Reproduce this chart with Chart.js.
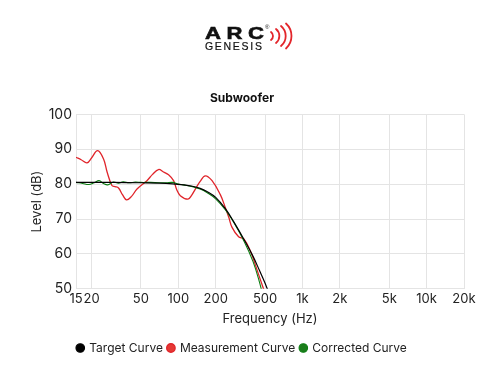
<!DOCTYPE html>
<html>
<head>
<meta charset="utf-8">
<script src="https://cdn.jsdelivr.net/npm/chart.js@4"></script>
<style>
  html, body { margin: 0; padding: 0; background: #fff; }
  #wrap { position: relative; width: 500px; height: 378px; overflow: hidden; font-family: "Liberation Sans", Arial, sans-serif; }
  #c { position: absolute; left: 0; top: 0; }
  .arc { position: absolute; left: 205px; top: 24px; font-size: 17px; font-weight: bold; letter-spacing: 4.3px; color: #111; line-height: 20px; transform: scaleX(1.3); transform-origin: 0 0; white-space: nowrap; -webkit-text-stroke: 0.6px #111; }
  .reg { position: absolute; left: 265px; top: 24px; font-size: 6px; color: #111; line-height: 6px; }
  .gen { position: absolute; left: 205px; top: 41px; font-size: 10.5px; letter-spacing: 1.7px; color: #111; line-height: 11px; white-space: nowrap; -webkit-text-stroke: 0.2px #111; }
  #waves { position: absolute; left: 267px; top: 22px; }
</style>
</head>
<body>
<div id="wrap">
  <canvas id="c" width="500" height="378"></canvas>
  <span class="arc">ARC</span><span class="reg">®</span>
  <span class="gen">GENESIS</span>
  <svg id="waves" width="26" height="28" viewBox="0 0 26 28">
    <g fill="none" stroke="#e3262b" stroke-width="1.8" stroke-linecap="round">
      <path d="M4 10 A 5 5 0 0 1 4 18"/>
      <path d="M9 7 A 9 9 0 0 1 9 21"/>
      <path d="M14 4 A 13 13 0 0 1 14 24"/>
      <path d="M19 1.5 A 17 17 0 0 1 19 26.5"/>
    </g>
  </svg>
</div>
<script>
// ---- data ----
const xTickValues = [15, 20, 50, 100, 200, 500, 1000, 2000, 5000, 10000, 20000];
const xTickLabels = ["15", "20", "50", "100", "200", "500", "1k", "2k", "5k", "10k", "20k"];
const yTickValues = [50, 60, 70, 80, 90, 100];

const targetFreq  = [15, 20, 30, 50, 70, 90, 110, 130, 150, 170, 200, 240, 280, 340, 400, 450, 500, 540];
const targetLevel = [80.5, 80.5, 80.5, 80.4, 80.3, 80.1, 79.8, 79.4, 78.8, 77.9, 76.2, 72.9, 69.2, 64.0, 59.3, 55.3, 51.6, 48.5];

const measFreq  = [15, 16.5, 18.4, 20, 22.4, 25, 26.7, 29.2, 31, 33, 35.5, 38.3, 42, 46.5, 55.9, 62, 69.3, 76, 83.5, 91.6, 97, 103.8, 119.7, 128, 137.1, 150, 165, 187, 218, 239, 255, 271, 306, 337, 380, 430, 480, 520];
const measLevel = [87.7, 87.0, 86.1, 87.5, 89.6, 87.2, 83.5, 79.6, 79.3, 78.9, 77.0, 75.5, 76.5, 78.6, 81.0, 82.8, 84.2, 83.5, 82.7, 81.0, 78.5, 76.7, 75.7, 76.8, 78.6, 80.8, 82.4, 81.0, 77.0, 73.3, 70.5, 67.6, 64.9, 64.3, 60.9, 55.5, 50.5, 47.0];

const corrFreq  = [15, 17, 19, 21, 23, 25, 27, 30, 33, 36, 40, 45, 50, 60, 70, 80, 90, 100, 110, 130, 150, 170, 200, 240, 280, 340, 400, 450, 480];
const corrLevel = [80.5, 80.2, 79.9, 80.4, 81.0, 80.2, 79.8, 80.6, 80.3, 80.7, 80.4, 80.6, 80.5, 80.5, 80.4, 80.4, 80.5, 80.0, 79.8, 79.3, 78.6, 77.6, 75.8, 72.6, 69.0, 63.5, 57.8, 52.0, 48.0];

const toPoints = (xs, ys) => xs.map((x, i) => ({ x: x, y: ys[i] }));

const FONT = "Inter, 'Liberation Sans', Arial, sans-serif";
Chart.defaults.font.family = FONT;
Chart.defaults.color = "#222";

new Chart(document.getElementById("c"), {
  type: "line",
  data: {
    datasets: [
      { label: "Target Curve", data: toPoints(targetFreq, targetLevel), borderColor: "#000", backgroundColor: "#000", borderWidth: 1.2, pointRadius: 0, tension: 0.4, order: 1 },
      { label: "Measurement Curve", data: toPoints(measFreq, measLevel), borderColor: "#e0242a", backgroundColor: "#e53935", borderWidth: 1.3, pointRadius: 0, tension: 0.4, order: 3 },
      { label: "Corrected Curve", data: toPoints(corrFreq, corrLevel), borderColor: "#0b7d12", backgroundColor: "#1b7d1b", borderWidth: 1.1, pointRadius: 0, tension: 0.4, order: 2 }
    ]
  },
  options: {
    responsive: false,
    animation: false,
    layout: { padding: { top: 80, left: 20, right: 36, bottom: 14 } },
    plugins: {
      title: { display: true, text: "Subwoofer", font: { size: 12, weight: "bold" }, color: "#111", padding: { top: 11, bottom: 9 } },
      legend: {
        position: "bottom",
        labels: {
          usePointStyle: true, pointStyle: "circle", boxWidth: 6, boxHeight: 6, font: { size: 12 }, color: "#222", padding: 5,
          sort: (a, b) => a.datasetIndex - b.datasetIndex
        }
      },
      tooltip: { enabled: false }
    },
    scales: {
      x: {
        type: "logarithmic",
        min: 15, max: 20000,
        afterBuildTicks: (s) => { s.ticks = xTickValues.map(v => ({ value: v })); },
        ticks: {
          autoSkip: false, maxRotation: 0, font: { size: 13 }, color: "#222", padding: 2,
          callback: (v) => { const i = xTickValues.indexOf(v); return i >= 0 ? xTickLabels[i] : ""; }
        },
        grid: { color: "#e4e4e4", drawTicks: false },
        border: { display: false },
        title: { display: true, text: "Frequency (Hz)", font: { size: 13 }, color: "#222", padding: { top: 3, bottom: 10 } }
      },
      y: {
        min: 50, max: 100,
        afterBuildTicks: (s) => { s.ticks = yTickValues.map(v => ({ value: v })); },
        afterFit: (s) => { s.width = 56; },
        ticks: { font: { size: 14 }, color: "#222", padding: 4 },
        grid: { color: "#e4e4e4", drawTicks: false },
        border: { display: false },
        title: { display: true, text: "Level (dB)", font: { size: 13 }, color: "#222", padding: { top: 9, bottom: 0 } }
      }
    }
  }
});
</script>
</body>
</html>
